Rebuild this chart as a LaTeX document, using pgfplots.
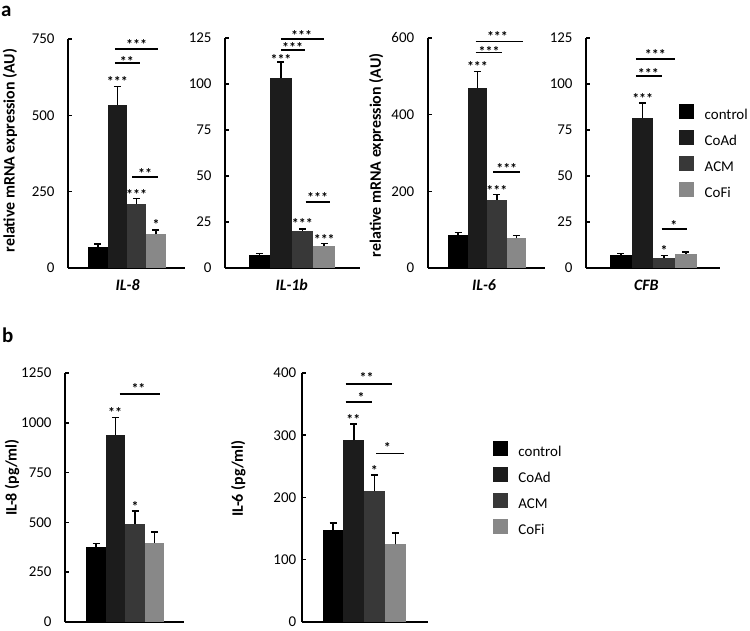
\documentclass[border=0pt]{standalone}
\usepackage{fontspec}
\setmainfont{Carlito}
\usepackage{pgfplots}
\pgfplotsset{compat=1.18}
\definecolor{c0}{HTML}{000000}
\definecolor{c1}{HTML}{1C1C1C}
\definecolor{c2}{HTML}{383838}
\definecolor{c3}{HTML}{888888}
\pgfplotsset{
  panel/.style={scale only axis, ybar, bar width=1, enlargelimits=false, clip=false,
    axis lines=left, axis line style={-, line width=1.8bp},
    ymin=0, xtick=\empty, tick align=inside, major tick length=4bp,
    tick style={line width=1.5bp, black},
    yticklabel style={font=\fontsize{15}{15}\selectfont, xshift=-10bp},
    /pgf/number format/assume math mode=true,
    /pgf/number format/1000 sep={},
    ylabel style={font=\fontsize{16}{16}\selectfont\bfseries, anchor=center},
    xlabel style={font=\fontsize{16}{16}\selectfont\bfseries\itshape, anchor=center},
  },
  bk/.style={draw=none, fill=#1, bar shift=0pt,
    legend image code/.code={\fill[#1] (0bp,-3bp) rectangle (15bp,12bp);}},
  eb/.style={error bars/.cd, y dir=plus, y explicit,
    error bar style={line width=1.5bp, black},
    error mark options={rotate=90, mark size=3.5bp, line width=1.5bp, black}},
  leg/.style={legend style={draw=none, fill=none, inner sep=0pt, anchor=north west,
    font=\fontsize{15}{15}\selectfont, row sep=6bp,
    nodes={inner sep=1.5bp, text height=10bp, text depth=3bp},
    /tikz/every odd column/.append style={column sep=9bp}}, legend cell align=left},
}
\tikzset{star/.style={font=\fontsize{14}{14}\selectfont\bfseries, inner sep=0pt, anchor=base, yshift=-7bp},
  br/.style={line width=1.8bp}}
\begin{document}
\begin{tikzpicture}
\useasboundingbox (0,0) rectangle (750bp,631bp);
\node[font=\fontsize{21}{21}\selectfont\bfseries, anchor=base west, inner sep=0pt] at (1bp,614bp) {a};
\node[font=\fontsize{21}{21}\selectfont\bfseries, anchor=base west, inner sep=0pt] at (2bp,288bp) {b};

% a1 IL-8
\begin{axis}[panel, at={(68bp,363bp)}, anchor=south west, width=117bp, height=229bp,
  xmin=-1.55, xmax=4.5, ymax=750, ytick={0,250,500,750},
  ylabel={relative mRNA expression (AU)}, ylabel style={at={(axis description cs:-0.496,0.513)}},
  xlabel={IL-8}, xlabel style={at={(axis description cs:0.51,0)}, yshift=-17bp}]
\addplot[bk=c0, eb] coordinates {(0,70) +- (0,8)};
\addplot[bk=c1, eb] coordinates {(1,535) +- (0,60)};
\addplot[bk=c2, eb] coordinates {(2,210) +- (0,17)};
\addplot[bk=c3, eb] coordinates {(3,111) +- (0,14)};
\node[star] at (axis cs:1,618) {***};
\draw[br] (axis cs:0.88,717) -- (axis cs:3.1,717);
\node[star] at (axis cs:2,739) {***};
\draw[br] (axis cs:0.88,671) -- (axis cs:2.18,671);
\node[star] at (axis cs:1.49,683) {**};
\node[star] at (axis cs:2,246) {***};
\draw[br] (axis cs:1.76,299) -- (axis cs:3.1,299);
\node[star] at (axis cs:2.44,317) {**};
\node[star] at (axis cs:3,150) {*};
\end{axis}

% a2 IL-1b
\begin{axis}[panel, at={(225bp,363bp)}, anchor=south west, width=135bp, height=230bp,
  xmin=-1.6, xmax=4.67, ymax=125, ytick={0,25,...,125},
  xlabel={IL-1b}, xlabel style={at={(axis description cs:0.494,0)}, yshift=-17bp}]
\addplot[bk=c0, eb] coordinates {(0,7) +- (0,0.9)};
\addplot[bk=c1, eb] coordinates {(1,103.3) +- (0,8.7)};
\addplot[bk=c2, eb] coordinates {(2,20.1) +- (0,1.2)};
\addplot[bk=c3, eb] coordinates {(3,12.1) +- (0,1.1)};
\node[star] at (axis cs:1,114.4) {***};
\draw[br] (axis cs:1.0,124.3) -- (axis cs:3.01,124.3);
\node[star] at (axis cs:1.96,127.4) {***};
\draw[br] (axis cs:1.0,118.3) -- (axis cs:2.12,118.3);
\node[star] at (axis cs:1.54,121) {***};
\node[star] at (axis cs:1.99,25.1) {***};
\draw[br] (axis cs:2.15,36) -- (axis cs:3.28,36);
\node[star] at (axis cs:2.7,39.6) {***};
\node[star] at (axis cs:3.01,16.7) {***};
\end{axis}

% a3 IL-6
\begin{axis}[panel, at={(427.7bp,363bp)}, anchor=south west, width=117.3bp, height=230bp,
  xmin=-1.56, xmax=4.48, ymax=600, ytick={0,200,400,600},
  ylabel={relative mRNA expression (AU)}, ylabel style={at={(axis description cs:-0.44,0.49)}},
  xlabel={IL-6}, xlabel style={at={(axis description cs:0.48,0)}, yshift=-17bp}]
\addplot[bk=c0, eb] coordinates {(0,86) +- (0,6.6)};
\addplot[bk=c1, eb] coordinates {(1,470) +- (0,43)};
\addplot[bk=c2, eb] coordinates {(2,178) +- (0,14)};
\addplot[bk=c3, eb] coordinates {(3,78) +- (0,7)};
\node[star] at (axis cs:1,530.8) {***};
\draw[br] (axis cs:0.91,591) -- (axis cs:3.37,591);
\node[star] at (axis cs:2.03,609) {***};
\draw[br] (axis cs:0.91,562) -- (axis cs:2.28,562);
\node[star] at (axis cs:1.6,570) {***};
\node[star] at (axis cs:2,208) {***};
\draw[br] (axis cs:1.82,251) -- (axis cs:3.2,251);
\node[star] at (axis cs:2.51,266) {***};
\end{axis}

% a4 CFB
\begin{axis}[panel, leg, at={(586bp,363bp)}, anchor=south west, width=134bp, height=230bp,
  xmin=-1.6, xmax=4.57, ymax=125, ytick={0,25,...,125},
  xlabel={CFB}, xlabel style={at={(axis description cs:0.45,0)}, yshift=-17bp},
  legend style={at={(axis description cs:0.694,0.7155)}}]
\addplot[bk=c0, eb] coordinates {(0,7.0) +- (0,0.8)};
\addplot[bk=c1, eb] coordinates {(1,81.6) +- (0,8.2)};
\addplot[bk=c2, eb] coordinates {(2,5.7) +- (0,1.0)};
\addplot[bk=c3, eb] coordinates {(3,7.75) +- (0,0.95)};
\legend{control,CoAd,ACM,CoFi}
\node[star] at (axis cs:1.01,93.4) {***};
\draw[br] (axis cs:0.7,113.8) -- (axis cs:2.5,113.8);
\node[star] at (axis cs:1.59,116.9) {***};
\draw[br] (axis cs:0.7,104.2) -- (axis cs:1.88,104.2);
\node[star] at (axis cs:1.27,107) {***};
\node[star] at (axis cs:2,10.8) {*};
\draw[br] (axis cs:1.88,21.3) -- (axis cs:3.04,21.3);
\node[star] at (axis cs:2.45,24) {*};
\end{axis}

% b1 IL-8 pg/ml
\begin{axis}[panel, at={(65bp,9bp)}, anchor=south west, width=119bp, height=249bp,
  xmin=-1.59, xmax=4.5, ymax=1250, ytick={0,250,...,1250},
  ylabel={IL-8 (pg/ml)}, ylabel style={at={(axis description cs:-0.445,0.58)}}]
\addplot[bk=c0, eb] coordinates {(0,376) +- (0,17)};
\addplot[bk=c1, eb] coordinates {(1,940) +- (0,86)};
\addplot[bk=c2, eb] coordinates {(2,494) +- (0,63)};
\addplot[bk=c3, eb] coordinates {(3,397) +- (0,55)};
\draw[br] (axis cs:1.2,1146) -- (axis cs:3.28,1146);
\node[star] at (axis cs:2.17,1183) {**};
\node[star] at (axis cs:0.97,1063) {**};
\node[star] at (axis cs:2,589) {*};
\end{axis}

% b2 IL-6 pg/ml
\begin{axis}[panel, leg, at={(301.7bp,9bp)}, anchor=south west, width=126.6bp, height=249bp,
  xmin=-1.51, xmax=4.59, ymax=400, ytick={0,100,...,400},
  yticklabel style={xshift=8bp},
  ylabel={IL-6 (pg/ml)}, ylabel style={at={(axis description cs:-0.5,0.576)}},
  legend style={at={(axis description cs:1.509,0.727)}}]
\addplot[bk=c0, eb] coordinates {(0,147) +- (0,12)};
\addplot[bk=c1, eb] coordinates {(1,291.6) +- (0,26.4)};
\addplot[bk=c2, eb] coordinates {(2,210) +- (0,26.5)};
\addplot[bk=c3, eb] coordinates {(3,124.7) +- (0,18.3)};
\legend{control,CoAd,ACM,CoFi}
\draw[br] (axis cs:0.61,382.5) -- (axis cs:2.83,382.5);
\node[star] at (axis cs:1.62,396) {**};
\draw[br] (axis cs:0.61,354) -- (axis cs:1.89,354);
\node[star] at (axis cs:1.35,364) {*};
\node[star] at (axis cs:0.98,328) {**};
\node[star] at (axis cs:1.99,246) {*};
\draw[br] (axis cs:2.07,270.8) -- (axis cs:3.42,270.8);
\node[star] at (axis cs:2.62,283.6) {*};
\end{axis}
\end{tikzpicture}
\end{document}
